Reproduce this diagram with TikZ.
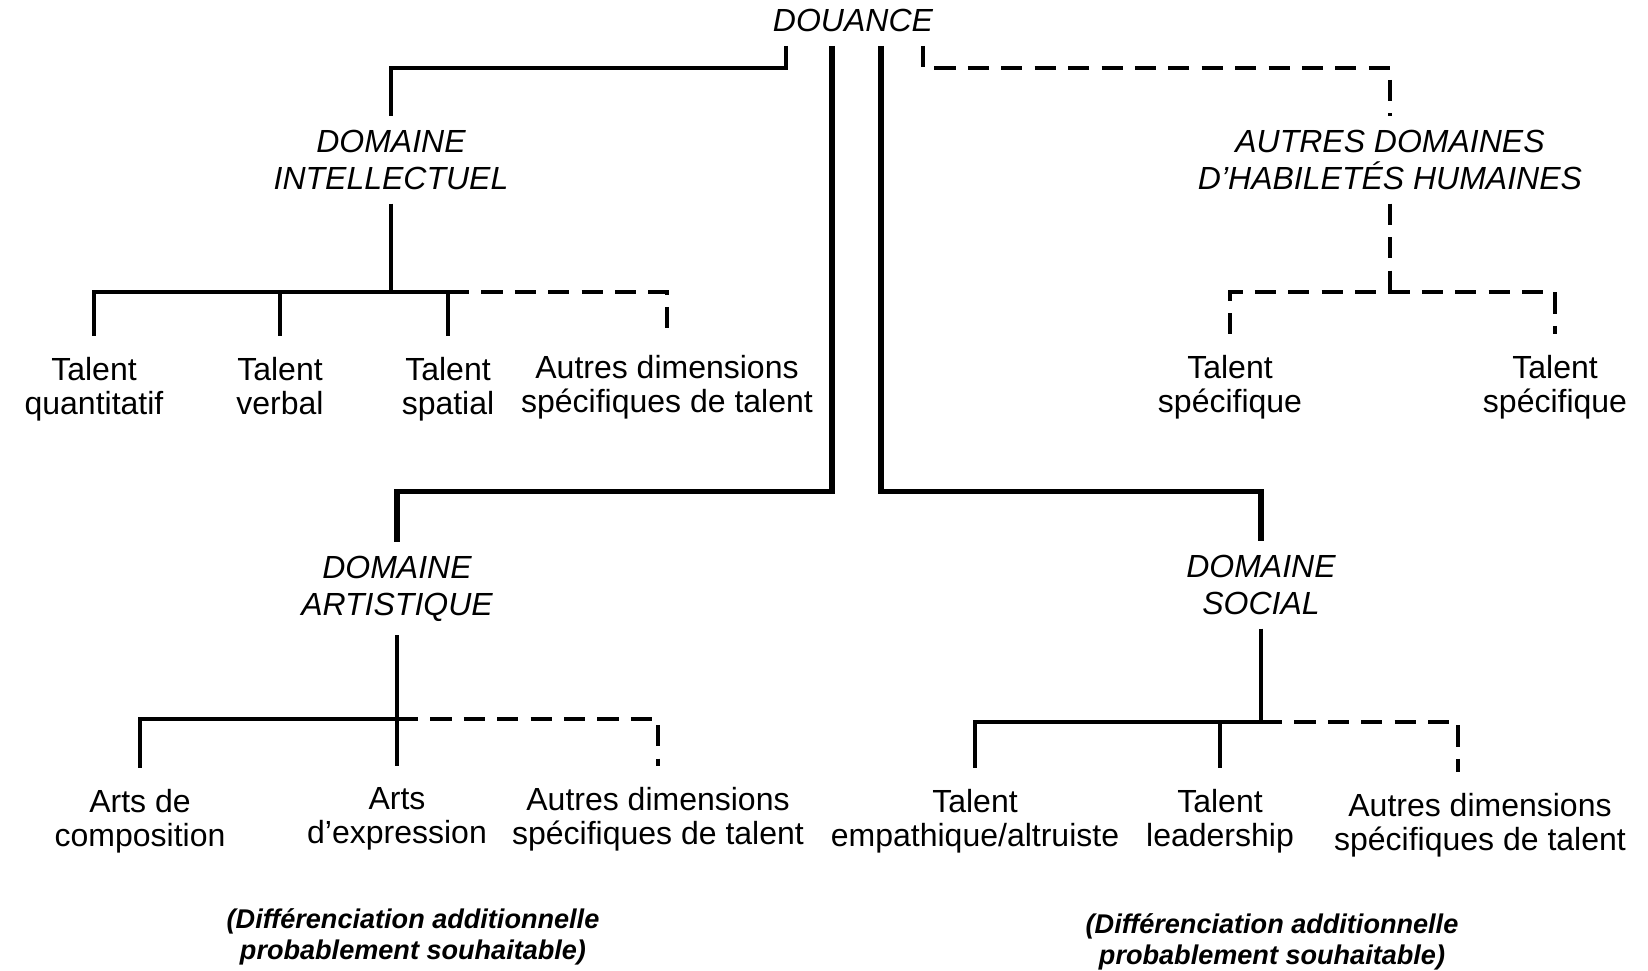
\documentclass[tikz,border=0pt]{standalone}
\usepackage{fontspec}
\setmainfont{Liberation Sans}
\usepackage{tikz}
\tikzstyle{head}=[font={\fontsize{9.1}{10.5}\selectfont\itshape}, align=center, inner sep=0pt, outer sep=4pt, anchor=north]
\tikzstyle{leaf}=[font={\fontsize{9.1}{9.7}\selectfont}, align=center, inner sep=0pt, outer sep=6pt, anchor=north]
\tikzstyle{note}=[font={\fontsize{7.7}{8.8}\selectfont\bfseries\itshape}, align=center, inner sep=0pt]
\tikzstyle{trunk}=[line width=1.5pt]
\tikzstyle{branch}=[line width=1.1pt]
\tikzstyle{other}=[line width=1.2pt, dash pattern=on 6pt off 3.5pt]

\begin{document}
\begin{tikzpicture}[x=0.01cm, y=-0.01cm]
\useasboundingbox (0, 0) rectangle (1648, 971);
\fill[white] (0, 0) rectangle (1648, 971);

\node[head] at (853, -5) (douance) {DOUANCE};
\node[head] at (391, 116) (intel) {DOMAINE\\INTELLECTUEL};
\node[head] at (1390, 116) (autres) {AUTRES DOMAINES\\D'HABILETÉS HUMAINES};
\node[head] at (397, 542) (art) {DOMAINE\\ARTISTIQUE};
\node[head] at (1261, 541) (social) {DOMAINE\\SOCIAL};

\node[leaf] at (94, 336) (quant) {Talent\\quantitatif};
\node[leaf] at (280, 336) (verbal) {Talent\\verbal};
\node[leaf] at (448, 336) (spatial) {Talent\\spatial};
\node[leaf] at (667, 334) (autres1) {Autres dimensions\\spécifiques de talent};

\node[leaf] at (1230, 334) (spec1) {Talent\\spécifique};
\node[leaf] at (1555, 334) (spec2) {Talent\\spécifique};

\node[leaf] at (140, 768) (comp) {Arts de\\composition};
\node[leaf] at (397, 766) (expr) {Arts\\d'expression};
\node[leaf] at (658, 766) (autres2) {Autres dimensions\\spécifiques de talent};

\node[leaf] at (975, 768) (emp) {Talent\\empathique/altruiste};
\node[leaf] at (1220, 768) (lead) {Talent\\leadership};
\node[leaf] at (1480, 772) (autres3) {Autres dimensions\\spécifiques de talent};

\node[note] at (413, 937) (noteart) {(Différenciation additionnelle\\probablement souhaitable)};
\node[note] at (1272, 942) (notesoc) {(Différenciation additionnelle\\probablement souhaitable)};

\coordinate (ji) at (391, 292);
\coordinate (jo) at (1390, 292);
\coordinate (ja) at (397, 719);
\coordinate (js) at (1261, 722);

\draw[trunk] ([xshift=-0.21cm]douance.south) -- ++(0, 446) -| (art.north);
\draw[trunk] ([xshift=0.28cm]douance.south) -- ++(0, 446) -| (social.north);
\draw[branch] ([xshift=-0.67cm]douance.south) -- ++(0, 22) -| (intel.north);
\draw[other] ([xshift=0.70cm]douance.south) -- ++(0, 22) -| (autres.north);

\draw[branch] (intel.south) -- (ji);
\draw[branch] (quant.north) |- (ji) -| (spatial.north);
\draw[branch] (verbal.north) -- (verbal.north |- ji);
\draw[other] (ji -| spatial.north) -| (autres1.north);

\draw[other] (autres.south) -- (jo);
\draw[other] (spec1.north) |- (jo) -| (spec2.north);

\draw[branch] (art.south) -- (expr.north);
\draw[branch] (comp.north) |- (ja);
\draw[other] (ja) -| (autres2.north);

\draw[branch] (social.south) -- (js);
\draw[branch] (emp.north) |- (js);
\draw[branch] (lead.north) -- (lead.north |- js);
\draw[other] (js) -| ([xshift=-0.22cm]autres3.north);
\end{tikzpicture}
\end{document}
